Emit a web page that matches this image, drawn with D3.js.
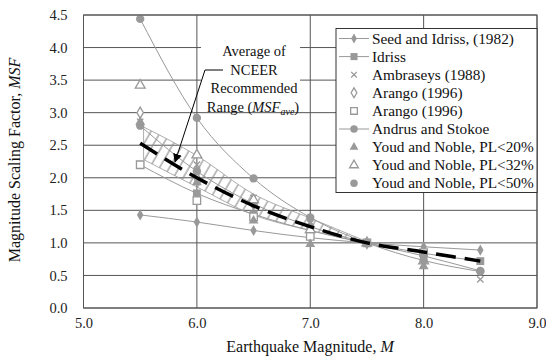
<!DOCTYPE html>
<html>
<head>
<meta charset="utf-8">
<script src="https://cdn.jsdelivr.net/npm/d3@7"></script>
<style>
  body { margin: 0; background: #fff; }
  svg { display: block; font-family: "Liberation Serif", "Times New Roman", serif; }
</style>
</head>
<body>
<svg id="chart" width="546" height="360"></svg>
<script>
// MSF values
const magnitudes = [5.5, 6.0, 6.5, 7.0, 7.5, 8.0, 8.5]
const seedIdriss = [1.43, 1.32, 1.19, 1.08, 1.00, 0.94, 0.89]
const idriss = [2.20, 1.76, 1.44, 1.19, 1.00, 0.84, 0.72]
const ambraseys = [2.86, 2.20, 1.69, 1.30, 1.00, 0.67, 0.44]
const arangoA = [3.00, 2.00, 1.60, 1.25, 1.00, 0.75, null]
const arangoB = [2.20, 1.65, 1.40, 1.10, 1.00, 0.85, null]
const andrus = [2.80, 2.10, 1.60, 1.25, 1.00, 0.80, 0.57]
const youd20 = [2.86, 1.93, 1.34, 0.98, 1.00, 0.64, null]
const youd32 = [3.42, 2.35, 1.66, 1.20, 1.00, 0.72, null]
const youd50 = [4.44, 2.92, 1.99, 1.39, 1.00, 0.73, 0.56]

// NCEER recommended range (hatched band) and its average
const bandM = [5.53, 6.0, 6.5, 7.0, 7.5]
const bandUpper = [2.78, 2.34, 1.75, 1.38, 1.02]
const bandLower = [2.28, 1.86, 1.43, 1.19, 0.99]
const msfAve = [2.53, 2.00, 1.57, 1.25, 1.00, 0.86, 0.72]

const xTicks = [5, 6, 7, 8, 9]
const yTicks = [0, 0.5, 1, 1.5, 2, 2.5, 3, 3.5, 4, 4.5]

const grey = '#999'
const gridColor = '#555'

const svg = d3.select('#chart')
const x = d3.scaleLinear().domain([5, 9]).range([83.5, 537])
const y = d3.scaleLinear().domain([0, 4.5]).range([308, 15])

// hatch pattern
const defs = svg.append('defs')
defs.append('pattern')
  .attr('id', 'hatch')
  .attr('patternUnits', 'userSpaceOnUse')
  .attr('width', 8.5).attr('height', 8.5)
  .attr('patternTransform', 'rotate(30)')
  .append('line')
  .attr('x1', 1).attr('y1', 0).attr('x2', 1).attr('y2', 8.5)
  .attr('stroke', '#8a8a8a').attr('stroke-width', 1.1)

// grid
const grid = svg.append('g')
grid.selectAll('.hg').data(yTicks).enter().append('line')
  .attr('x1', x(5)).attr('x2', x(9))
  .attr('y1', d => y(d)).attr('y2', d => y(d))
  .attr('stroke', gridColor).attr('stroke-width', 1)
grid.selectAll('.vg').data(xTicks).enter().append('line')
  .attr('x1', d => x(d)).attr('x2', d => x(d))
  .attr('y1', y(0)).attr('y2', y(4.5))
  .attr('stroke', gridColor).attr('stroke-width', 1)

// axes labels
const xAxis = svg.append('g')
  .attr('transform', `translate(0,${y(0)})`)
  .call(d3.axisBottom(x).tickValues(xTicks).tickFormat(d3.format('.1f')).tickSize(0).tickPadding(10))
const yAxis = svg.append('g')
  .attr('transform', `translate(${x(5)},0)`)
  .call(d3.axisLeft(y).tickValues(yTicks).tickFormat(d3.format('.1f')).tickSize(0).tickPadding(16))
;[xAxis, yAxis].forEach(a => {
  a.select('.domain').remove()
  a.attr('font-family', '"Liberation Serif", serif')
  a.selectAll('text')
    .style('font-size', '14.5px')
    .attr('fill', '#222')
})

// band
const bandArea = d3.area()
  .x((d, i) => x(bandM[i]))
  .y0((d, i) => y(bandLower[i]))
  .y1((d, i) => y(bandUpper[i]))
  .curve(d3.curveMonotoneX)
svg.append('path')
  .datum(bandM)
  .attr('d', bandArea)
  .attr('fill', 'url(#hatch)')
  .attr('stroke', '#999')
  .attr('stroke-width', 0.8)

// series
const series = [
  { name: 'Seed and Idriss, (1982)', values: seedIdriss, symbol: d3.symbolDiamond, size: 36, fill: grey, line: true },
  { name: 'Idriss', values: idriss, symbol: d3.symbolSquare, size: 62, fill: grey, line: true },
  { name: 'Ambraseys (1988)', values: ambraseys, symbol: d3.symbolX, size: 28, fill: 'none', stroke: grey, line: false },
  { name: 'Arango (1996)', values: arangoA, symbol: d3.symbolDiamond, size: 36, fill: '#fff', stroke: grey, line: false },
  { name: 'Arango (1996)', values: arangoB, symbol: d3.symbolSquare, size: 56, fill: '#fff', stroke: grey, line: false },
  { name: 'Andrus and Stokoe', values: andrus, symbol: d3.symbolCircle, size: 55, fill: grey, line: true },
  { name: 'Youd and Noble, PL<20%', values: youd20, symbol: d3.symbolTriangle, size: 42, fill: grey, line: false },
  { name: 'Youd and Noble, PL<32%', values: youd32, symbol: d3.symbolTriangle, size: 42, fill: '#fff', stroke: grey, line: false },
  { name: 'Youd and Noble, PL<50%', values: youd50, symbol: d3.symbolCircle, size: 55, fill: grey, line: false, plotLine: true }
]

const lineGen = d3.line()
  .defined(d => d[1] !== null)
  .x(d => x(d[0])).y(d => y(d[1]))
  .curve(d3.curveMonotoneX)

series.filter(s => s.line || s.plotLine).forEach(s => {
  svg.append('path')
    .datum(magnitudes.map((m, i) => [m, s.values[i]]))
    .attr('d', lineGen)
    .attr('fill', 'none')
    .attr('stroke', grey)
    .attr('stroke-width', 1)
})

function drawSymbol(g, s, cx, cy) {
  g.append('path')
    .attr('d', d3.symbol().type(s.symbol).size(s.size)())
    .attr('transform', `translate(${cx},${cy})`)
    .attr('fill', s.fill)
    .attr('stroke', s.stroke || 'none')
    .attr('stroke-width', s.stroke ? 1.3 : 0)
}

const marks = svg.append('g')
series.forEach(s => {
  magnitudes.forEach((m, i) => {
    if (s.values[i] === null) return
    drawSymbol(marks, s, x(m), y(s.values[i]))
  })
})

// average line
svg.append('path')
  .datum(magnitudes.map((m, i) => [m, msfAve[i]]))
  .attr('d', lineGen)
  .attr('fill', 'none')
  .attr('stroke', '#000')
  .attr('stroke-width', 3.5)
  .attr('stroke-dasharray', '20,9')

// frame
svg.append('rect')
  .attr('x', x(5)).attr('y', y(4.5))
  .attr('width', x(9) - x(5)).attr('height', y(0) - y(4.5))
  .attr('fill', 'none').attr('stroke', gridColor).attr('stroke-width', 1)

// annotation
const ann = svg.append('g')
ann.append('rect')
  .attr('x', 201).attr('y', 36).attr('width', 99).attr('height', 76)
  .attr('fill', '#fff')
const annLines = ['Average of', 'NCEER', 'Recommended']
annLines.forEach((t, i) => {
  ann.append('text')
    .attr('x', 254).attr('y', 56 + i * 18.7)
    .attr('text-anchor', 'middle')
    .style('font-size', '14.5px')
    .attr('fill', '#111')
    .text(t)
})
const rangeText = ann.append('text')
  .attr('x', 253).attr('y', 112)
  .attr('text-anchor', 'middle')
  .style('font-size', '14.5px')
  .attr('fill', '#111')
rangeText.append('tspan').text('Range (')
rangeText.append('tspan').style('font-style', 'italic').text('MSF')
rangeText.append('tspan').style('font-style', 'italic').style('font-size', '10px').attr('dy', 3).text('ave')
rangeText.append('tspan').attr('dy', -3).text(')')

defs.append('marker')
  .attr('id', 'arrow')
  .attr('viewBox', '0 0 10 10')
  .attr('refX', 9).attr('refY', 5)
  .attr('markerWidth', 9).attr('markerHeight', 9)
  .attr('markerUnits', 'userSpaceOnUse')
  .attr('orient', 'auto')
  .append('path')
  .attr('d', 'M0,0 L10,5 L0,10 Z')
  .attr('fill', '#000')
svg.append('path')
  .attr('d', 'M223,70 L205,70 L175,162')
  .attr('fill', 'none')
  .attr('stroke', '#000')
  .attr('stroke-width', 1)
  .attr('marker-end', 'url(#arrow)')

// legend
const legend = svg.append('g')
legend.append('rect')
  .attr('x', 336).attr('y', 28.5).attr('width', 201).attr('height', 164)
  .attr('fill', '#fff').attr('stroke', '#333').attr('stroke-width', 1)
series.forEach((s, i) => {
  const ly = 38.5 + i * 18.1
  if (s.line) {
    legend.append('line')
      .attr('x1', 339).attr('x2', 369).attr('y1', ly).attr('y2', ly)
      .attr('stroke', grey).attr('stroke-width', 1)
  }
  drawSymbol(legend, { ...s, size: s.size * 0.8 }, 354, ly)
  legend.append('text')
    .attr('x', 372).attr('y', ly + 5)
    .style('font-size', '15.3px')
    .attr('fill', '#111')
    .text(s.name)
})

// axis titles
const xt = svg.append('text')
  .attr('x', 310).attr('y', 352)
  .attr('text-anchor', 'middle')
  .style('font-size', '16px')
  .attr('fill', '#111')
xt.append('tspan').text('Earthquake Magnitude, ')
xt.append('tspan').style('font-style', 'italic').text('M')

const yt = svg.append('text')
  .attr('transform', 'translate(20,160) rotate(-90)')
  .attr('text-anchor', 'middle')
  .style('font-size', '16px')
  .attr('fill', '#111')
yt.append('tspan').text('Magnitude Scaling Factor, ')
yt.append('tspan').style('font-style', 'italic').text('MSF')
</script>
</body>
</html>
